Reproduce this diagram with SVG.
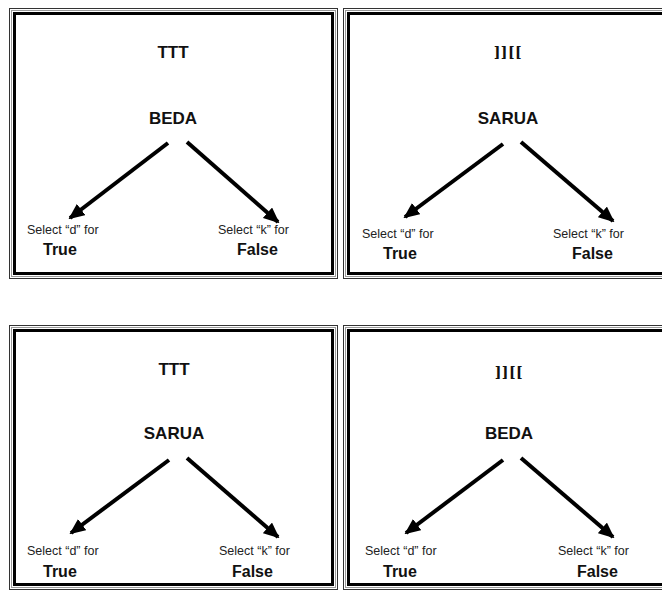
<svg xmlns="http://www.w3.org/2000/svg" width="662" height="590" viewBox="0 0 662 590">
  <style>
    .o { fill: none; stroke: #333; stroke-width: 1; }
    .g { fill: none; stroke: #999; stroke-width: 1; }
    .b { fill: none; stroke: #000; stroke-width: 3; }
    .h { font-family: "Liberation Sans", Arial, sans-serif; font-weight: bold; font-size: 17px; text-anchor: middle; fill: #111; }
    .br { font-family: "DejaVu Serif", "Liberation Serif", serif; font-weight: bold; font-size: 14px; letter-spacing: 0.5px; text-anchor: middle; fill: #111; }
    .s { font-family: "Liberation Sans", Arial, sans-serif; font-size: 12.5px; fill: #222; }
    .t { font-family: "Liberation Sans", Arial, sans-serif; font-weight: bold; font-size: 16px; fill: #111; }
    .a { stroke: #000; stroke-width: 4; fill: none; marker-end: url(#ah); }
  </style>
  <defs>
    <marker id="ah" markerUnits="userSpaceOnUse" markerWidth="16" markerHeight="14" refX="14" refY="7" orient="auto">
      <path d="M0,0 L16,7 L0,14 Z" fill="#000"/>
    </marker>
  </defs>
  <rect width="662" height="590" fill="#fff"/>

  <g id="frame1">
    <rect class="o" x="9.5" y="8.5" width="328" height="270"/>
    <rect class="g" x="11.5" y="10.5" width="324" height="266"/>
    <rect class="b" x="14.5" y="13.5" width="318" height="260"/>
    <text class="h" x="173" y="58">TTT</text>
    <text class="h" x="173" y="124">BEDA</text>
    <text class="s" x="27" y="234">Select “d” for</text>
    <text class="t" x="43" y="255">True</text>
    <text class="s" x="218" y="234">Select “k” for</text>
    <text class="t" x="237" y="255">False</text>
  </g>

  <g id="frame2">
    <rect class="o" x="343.5" y="8.5" width="328" height="270"/>
    <rect class="g" x="345.5" y="10.5" width="324" height="266"/>
    <rect class="b" x="348.5" y="13.5" width="318" height="260"/>
    <text class="br" x="508" y="57">]][[</text>
    <text class="h" x="508" y="124">SARUA</text>
    <text class="s" x="362" y="238">Select “d” for</text>
    <text class="t" x="383" y="259">True</text>
    <text class="s" x="553" y="238">Select “k” for</text>
    <text class="t" x="572" y="259">False</text>
  </g>

  <g id="frame3">
    <rect class="o" x="9.5" y="325.5" width="328" height="264"/>
    <rect class="g" x="11.5" y="327.5" width="324" height="260"/>
    <rect class="b" x="14.5" y="330.5" width="318" height="254"/>
    <text class="h" x="174" y="375">TTT</text>
    <text class="h" x="174" y="439">SARUA</text>
    <text class="s" x="27" y="555">Select “d” for</text>
    <text class="t" x="43" y="577">True</text>
    <text class="s" x="219" y="555">Select “k” for</text>
    <text class="t" x="232" y="577">False</text>
  </g>

  <g id="frame4">
    <rect class="o" x="343.5" y="325.5" width="328" height="264"/>
    <rect class="g" x="345.5" y="327.5" width="324" height="260"/>
    <rect class="b" x="348.5" y="330.5" width="318" height="254"/>
    <text class="br" x="509" y="377">]][[</text>
    <text class="h" x="509" y="439">BEDA</text>
    <text class="s" x="365" y="555">Select “d” for</text>
    <text class="t" x="383" y="577">True</text>
    <text class="s" x="558" y="555">Select “k” for</text>
    <text class="t" x="577" y="577">False</text>
  </g>

  <g id="connectors">
    <line class="a" x1="168" y1="143" x2="70" y2="218"/>
    <line class="a" x1="187" y1="142" x2="278" y2="222"/>
    <line class="a" x1="503" y1="144" x2="405" y2="217"/>
    <line class="a" x1="521" y1="142" x2="613" y2="221"/>
    <line class="a" x1="169" y1="460" x2="71" y2="533"/>
    <line class="a" x1="187" y1="458" x2="278" y2="537"/>
    <line class="a" x1="503" y1="460" x2="406" y2="533"/>
    <line class="a" x1="521" y1="458" x2="613" y2="537"/>
  </g>
</svg>
